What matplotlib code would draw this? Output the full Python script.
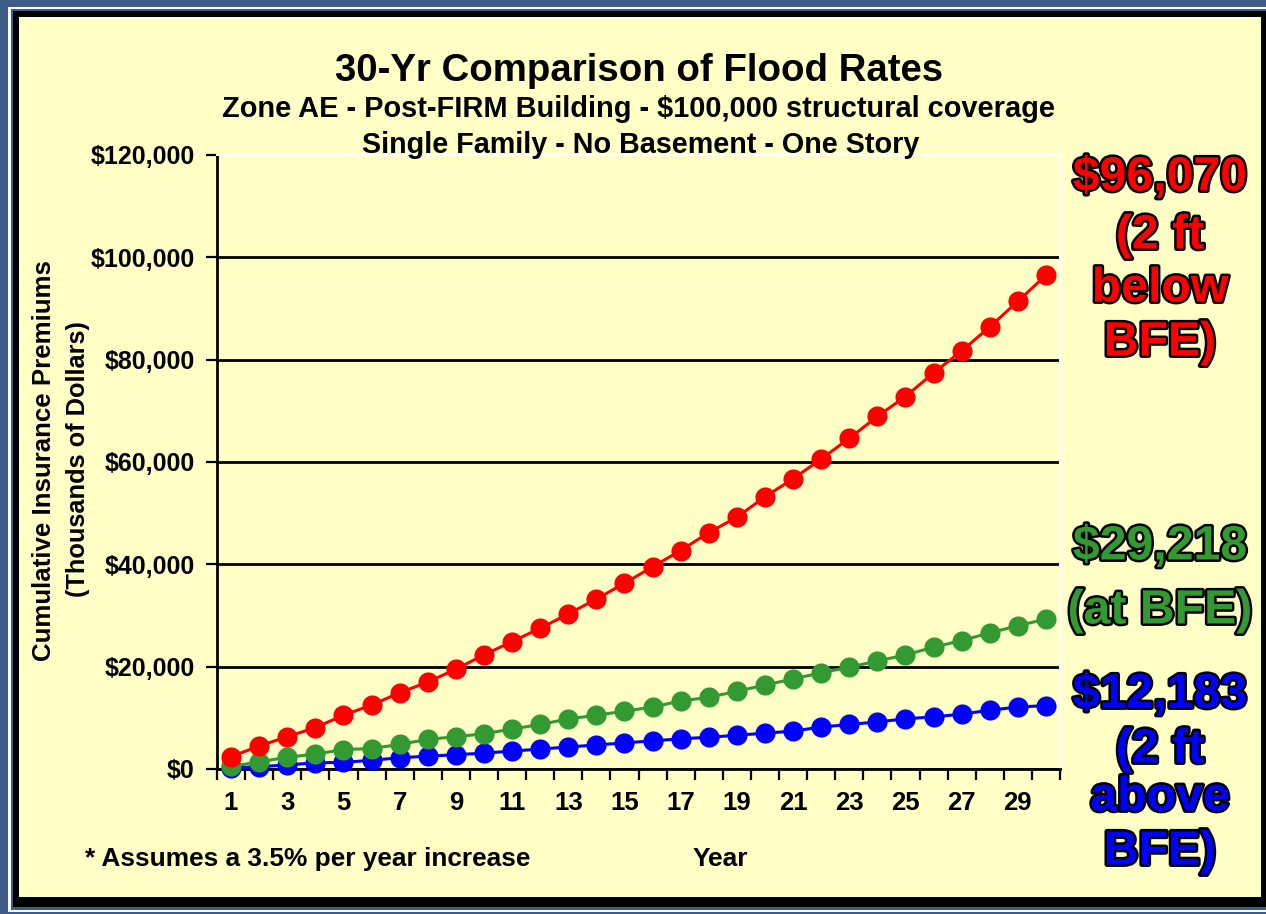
import matplotlib
matplotlib.use("Agg")
import matplotlib.pyplot as plt
from matplotlib.patches import Rectangle
import matplotlib.patheffects as pe
from matplotlib import font_manager as fm
import numpy as np

# ---------------- data (cumulative premiums, dollars) ----------------
years = list(range(1, 31))
below_bfe = [2400, 4500, 6300, 8100, 10500, 12500, 14900, 17000, 19500, 22300,
             24900, 27500, 30300, 33200, 36300, 39500, 42700, 46200, 49200, 53200,
             56700, 60600, 64600, 68900, 72800, 77400, 81700, 86400, 91400, 96500]
at_bfe = [500, 1400, 2300, 2900, 3800, 4000, 4800, 5800, 6300, 6900,
          7800, 8700, 9800, 10500, 11300, 12100, 13300, 14000, 15200, 16400,
          17600, 18800, 19900, 21100, 22300, 23800, 25100, 26600, 28000, 29300]
above_bfe = [200, 450, 800, 1200, 1300, 1700, 2200, 2500, 2800, 3100,
             3500, 3900, 4300, 4700, 5100, 5500, 5900, 6200, 6600, 7000,
             7400, 8200, 8700, 9200, 9800, 10200, 10700, 11500, 12100, 12400]
ytick_vals = [0, 20000, 40000, 60000, 80000, 100000, 120000]
xtick_vals = list(range(1, 30, 2))

title = "30-Yr Comparison of Flood Rates"
subtitle1 = "Zone AE - Post-FIRM Building - $100,000 structural coverage"
subtitle2 = "Single Family - No Basement - One Story"
ylabel1 = "Cumulative Insurance Premiums"
ylabel2 = "(Thousands of Dollars)"
xlabel = "Year"
footnote = "* Assumes a 3.5% per year increase"
red_note = ["$96,070", "(2 ft", "below", "BFE)"]
green_note = ["$29,218", "(at BFE)"]
blue_note = ["$12,183", "(2 ft", "above", "BFE)"]

RED, GREEN, BLUE = "#FF0000", "#339933", "#0000FF"
YELLOW = "#FFFFC6"
FRAME_BLUE = "#3F5C88"

names = {f.name for f in fm.fontManager.ttflist}
narrow = "Liberation Sans Narrow" if "Liberation Sans Narrow" in names else "Liberation Sans"
plt.rcParams["font.family"] = ["Liberation Sans", "DejaVu Sans"]
plt.rcParams["font.weight"] = "bold"

W, H = 1266, 914
fig = plt.figure(figsize=(W / 100, H / 100), dpi=100)
fig.patch.set_facecolor(FRAME_BLUE)


def rect(x0, y0, x1, y1, color):
    fig.add_artist(Rectangle((x0 / W, 1 - y1 / H), (x1 - x0) / W, (y1 - y0) / H,
                             transform=fig.transFigure, facecolor=color,
                             edgecolor="none", zorder=-10))


def ftext(x, y, s, **kw):
    return fig.text(x / W, 1 - y / H, s, **kw)


# frame
rect(8, 7, W, 912, "white")
rect(11, 9, W, 910, FRAME_BLUE)
rect(13, 11, W, 907, "black")
rect(19, 17, 1261, 897, YELLOW)

ax = fig.add_axes([217 / W, 1 - 769 / H, (1060 - 217) / W, (769 - 155) / H])
ax.set_facecolor(YELLOW)

for vals, col, z in [(above_bfe, BLUE, 3), (at_bfe, GREEN, 4), (below_bfe, RED, 5)]:
    ax.plot(years, vals, color=col, lw=2.2, marker="o", ms=14.5, mec="none",
            zorder=z, clip_on=False)

ax.set_xlim(0.5, 30.5)
ax.set_ylim(0, 120000)
ax.set_yticks(ytick_vals)
ax.set_yticklabels([f"${v:,}" for v in ytick_vals])
ax.set_xticks(xtick_vals)
ax.set_xticklabels([str(v) for v in xtick_vals])
ax.set_xticks(np.arange(0.5, 31, 1), minor=True)
ax.tick_params(axis="x", which="major", length=0, pad=16, labelsize=18.5)
ax.tick_params(axis="x", which="minor", length=8, width=1.6, direction="out", color="black")
ax.tick_params(axis="y", which="major", length=8, width=1.6, direction="out", pad=8, labelsize=18)
for lab in ax.get_xticklabels() + ax.get_yticklabels():
    lab.set_fontweight("bold")

ax.yaxis.grid(True, color="black", lw=2)
ax.set_axisbelow(True)
ax.get_ygridlines()[-1].set_visible(False)
for s in ["left", "bottom"]:
    ax.spines[s].set_color("black")
    ax.spines[s].set_linewidth(2)
for s in ["top", "right"]:
    ax.spines[s].set_color("white")
    ax.spines[s].set_linewidth(1.5)

texts = []
t = ftext(639, 81, title, ha="center", va="baseline", fontsize=30, weight="bold", family=narrow)
texts.append((t, 608, False))
t = ftext(638, 117, subtitle1, ha="center", va="baseline", fontsize=18, weight="bold", family=narrow)
texts.append((t, 834, False))
t = ftext(641, 153, subtitle2, ha="center", va="baseline", fontsize=18, weight="bold", family=narrow)
texts.append((t, 558, False))
t = ftext(44, 461, ylabel1, ha="center", va="center", rotation=90, fontsize=17, weight="bold")
texts.append((t, 403, True))
t = ftext(78, 459, ylabel2, ha="center", va="center", rotation=90, fontsize=17, weight="bold")
texts.append((t, 278, True))
t = ftext(308, 866, footnote, ha="center", va="baseline", fontsize=17, weight="bold")
texts.append((t, 447, False))
t = ftext(720, 866, xlabel, ha="center", va="baseline", fontsize=17, weight="bold")
texts.append((t, 56, False))

stroke = [pe.withStroke(linewidth=3.5, foreground="black")]
notes = []
for lines, col, ys in [(red_note, RED, [178, 236, 289, 343]),
                       (green_note, GREEN, [547, 611]),
                       (blue_note, BLUE, [695, 750, 798, 852])]:
    for s, y in zip(lines, ys):
        t = ftext(1160, y, s, ha="center", va="center", fontsize=30, weight="bold",
                  color=col, path_effects=stroke)
        notes.append(t)

fig.canvas.draw()
r = fig.canvas.get_renderer()
for t, target, rot in texts:
    bb = t.get_window_extent(r)
    cur = bb.height if rot else bb.width
    t.set_fontsize(t.get_fontsize() * target / cur)
# scale the note font from the first amount
bb = notes[0].get_window_extent(r)
ns = notes[0].get_fontsize() * 174 / bb.width
for t in notes:
    t.set_fontsize(ns)

fig.savefig("out.png", dpi=100, facecolor=fig.get_facecolor())
